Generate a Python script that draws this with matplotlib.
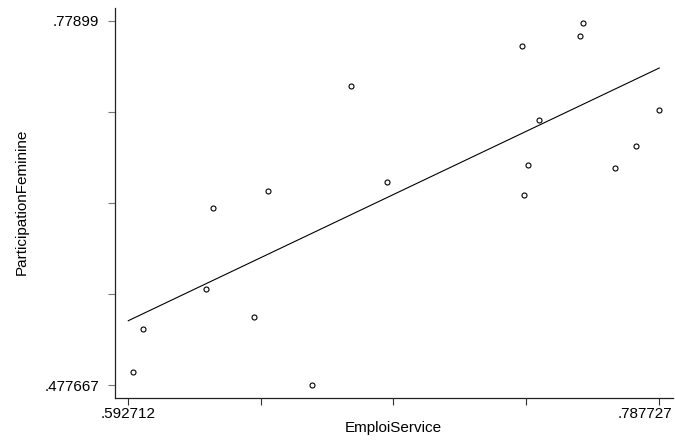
import matplotlib.pyplot as plt
import matplotlib.transforms as mtransforms
import numpy as np

plt.rcParams['font.family'] = ['Liberation Sans', 'DejaVu Sans']

# EmploiService (x) vs ParticipationFeminine (y)
emploi = [0.594546, 0.598325, 0.621436, 0.624004, 0.638935, 0.644181,
          0.660433, 0.674520, 0.687726, 0.737251, 0.738095, 0.739562,
          0.743708, 0.758638, 0.759849, 0.771368, 0.779292, 0.787727]
particip = [0.488171, 0.523986, 0.556823, 0.623821, 0.533664, 0.638130,
            0.477667, 0.725227, 0.645823, 0.758064, 0.635070, 0.659884,
            0.696856, 0.766584, 0.776841, 0.657402, 0.675351, 0.704879]

# fitted line endpoints
fit_x = [0.592932, 0.787727]
fit_y = [0.530851, 0.739867]

xticks = np.linspace(0.592712, 0.787727, 5)
yticks = np.linspace(0.477667, 0.77899, 5)
xlabels = ['.592712', '', '', '', '.787727']
ylabels = ['.477667', '', '', '', '.77899']

fig = plt.figure(figsize=(6.75, 4.42), dpi=100)
ax = fig.add_axes([0.1699, 0.1002, 0.8271, 0.8817])

ax.plot(emploi, particip, 'o', mfc='none', mec='black', ms=3.6, mew=0.8,
        clip_on=False)
ax.plot(fit_x, fit_y, color='black', lw=0.8)

ax.set_xlim(0.587943, 0.792754)
ax.set_ylim(0.467162, 0.789495)

ax.set_xticks(xticks)
ax.set_xticklabels(xlabels)
ax.set_yticks(yticks)
ax.set_yticklabels(ylabels)
ax.tick_params(axis='x', length=5.2, width=0.8, color='#333333', labelsize=11, pad=1.5)
ax.tick_params(axis='y', length=5.4, width=0.8, color='#777777', labelsize=11, pad=5.6)

# last x label is pushed left so it stays inside the figure
last = ax.get_xticklabels()[-1]
last.set_transform(last.get_transform() +
                   mtransforms.ScaledTranslation(-0.14, 0, fig.dpi_scale_trans))

for s in ['top', 'right']:
    ax.spines[s].set_visible(False)
for s in ['left', 'bottom']:
    ax.spines[s].set_linewidth(0.9)
    ax.spines[s].set_color('#222222')

ax.set_xlabel('EmploiService', fontsize=11, va='center')
ax.xaxis.set_label_coords(0.4985, -0.078)
ax.set_ylabel('ParticipationFeminine', fontsize=11, va='center')
ax.yaxis.set_label_coords(-0.166, 0.502)

fig.savefig('out.png', dpi=100)
